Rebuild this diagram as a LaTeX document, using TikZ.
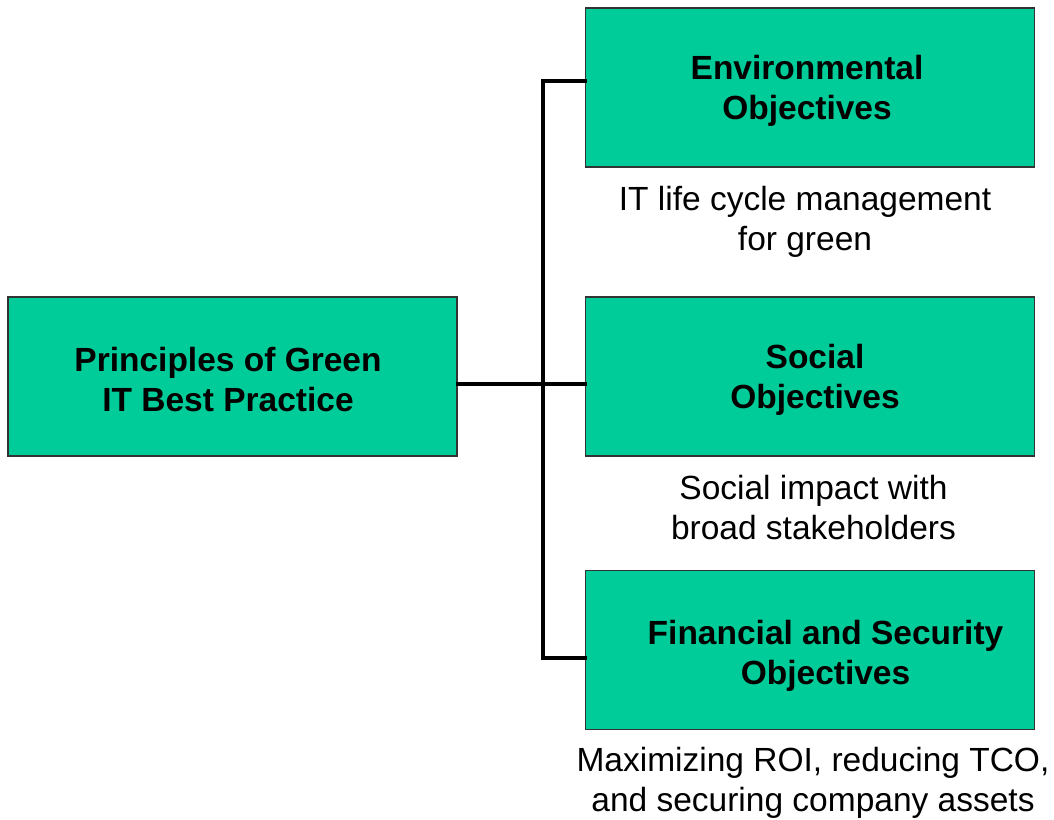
\documentclass[tikz,border=0pt]{standalone}
\usepackage{fontspec}
\setmainfont{Liberation Sans}
\definecolor{boxgreen}{HTML}{00CC99}

\begin{document}
\begin{tikzpicture}[x=1pt, y=-1pt,
  box/.style={rectangle, draw=black!80, line width=1.2pt, fill=boxgreen, minimum width=449pt, minimum height=159pt, inner sep=0pt},
  boxtext/.style={align=center, inner sep=0pt, font=\fontsize{33.5}{40}\selectfont\bfseries},
  caption/.style={align=center, inner sep=0pt, font=\fontsize{33.5}{40}\selectfont},
  link/.style={line width=4pt, line cap=rect}]
	\useasboundingbox (0,0) rectangle (1054,819);

	\node[box] (principles) at (232.5,376.5) {};
	\node[boxtext] (principlestext) at (228,380) {Principles of Green\\IT Best Practice};

	\node[box] (env) at (810,87.5) {};
	\node[boxtext] (envtext) at (807,91) {Environmental\\Objectives};
	\node[box] (soc) at (810,376.5) {};
	\node[boxtext] (soctext) at (815,380) {Social\\Objectives};
	\node[box] (fin) at (810,650) {};
	\node[boxtext] (fintext) at (825.5,656) {Financial and Security\\Objectives};

	\node[caption] (envcap) at (805,222) {IT life cycle management\\for green};
	\node[caption] (soccap) at (813.5,508) {Social impact with\\broad stakeholders};
	\node[caption] (fincap) at (813,783) {Maximizing ROI, reducing TCO,\\and securing company assets};

	% tree connector
	\coordinate (bus) at (543,384);
	\draw[link] ([yshift=-7.5pt]principles.east) -- ([yshift=-7.5pt]soc.west);
	\draw[link] ([yshift=6.5pt]env.west) -| (bus) |- ([yshift=-8pt]fin.west);
\end{tikzpicture}
\end{document}
